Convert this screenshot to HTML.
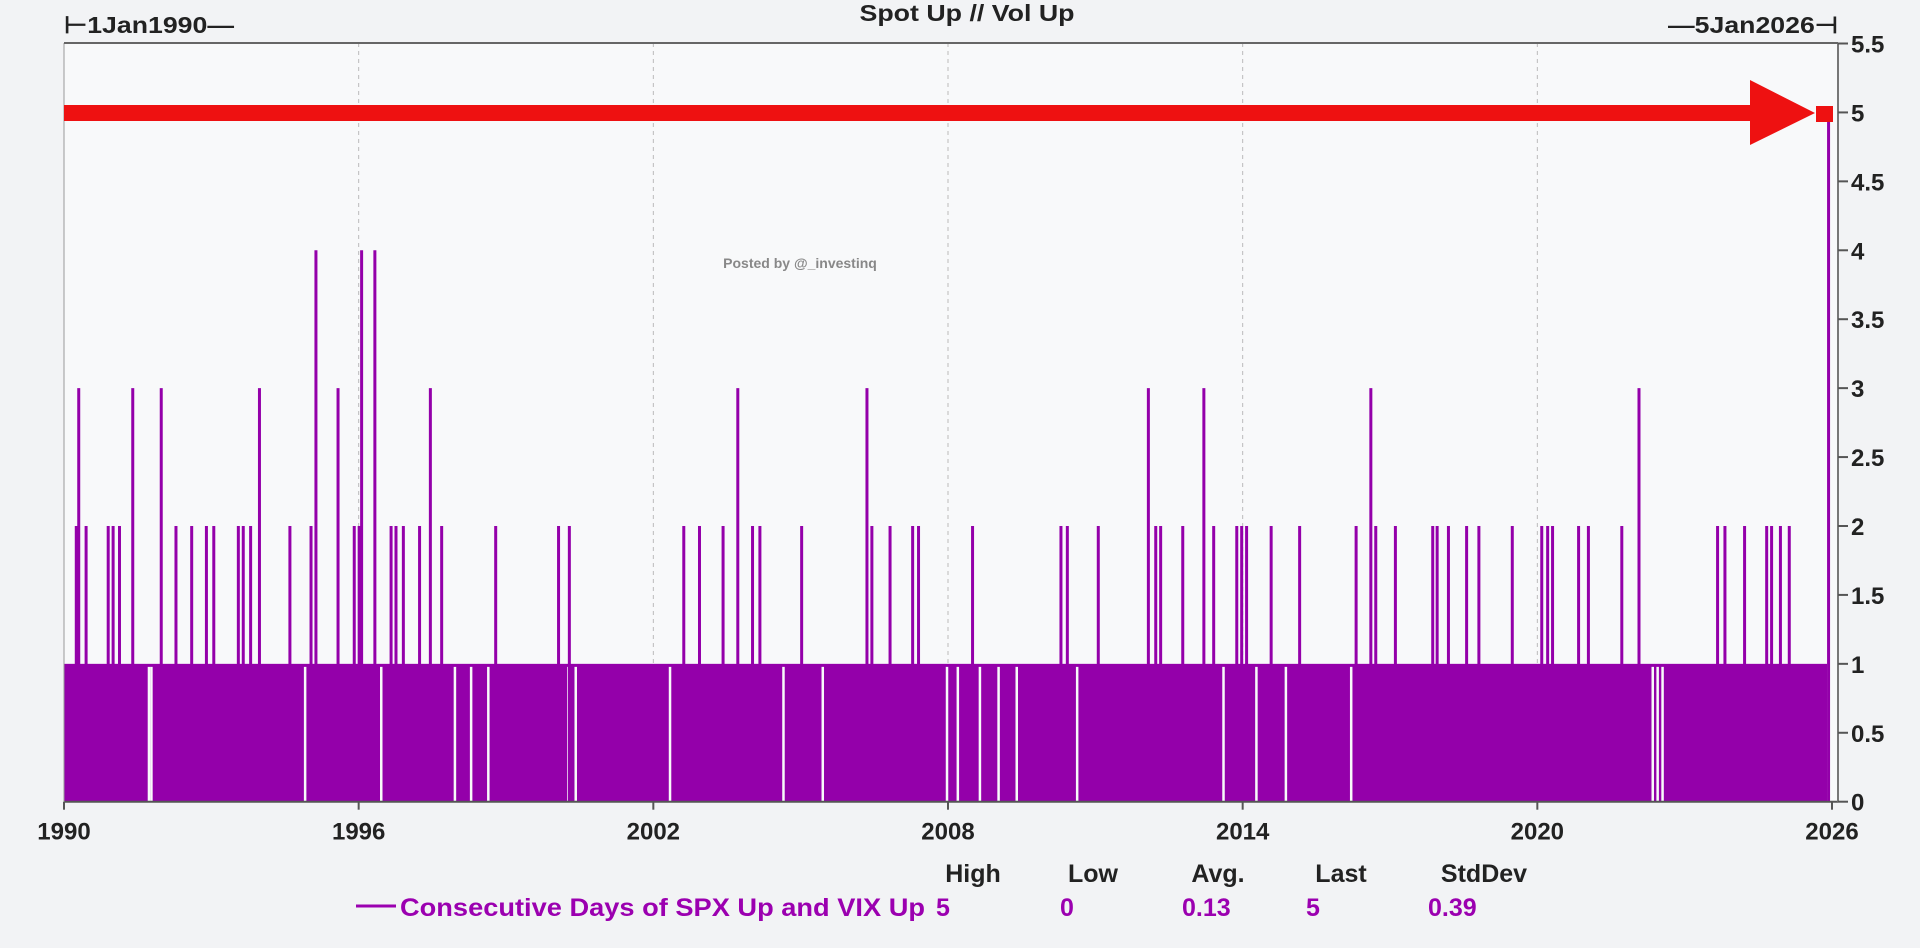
<!DOCTYPE html>
<html><head><meta charset="utf-8"><style>
body{margin:0;background:#f2f3f5;}
svg text{font-family:"Liberation Sans",sans-serif;font-weight:bold;}
</style></head><body>
<svg id="chart" width="1920" height="943" viewBox="0 0 1920 943" xmlns="http://www.w3.org/2000/svg">
<rect x="0" y="0" width="1920" height="943" fill="#f2f3f5"/>
<rect x="64" y="43" width="1774" height="758" fill="#f8f9fa"/>
<g id="grid"></g><g id="base"></g><g id="gaps"></g><g id="spikes"></g><g id="axes"></g>
<text x="967" y="21" font-size="23" text-anchor="middle" fill="#222" textLength="215" lengthAdjust="spacingAndGlyphs">Spot Up // Vol Up</text>
<text x="64" y="33" font-size="23" fill="#222" textLength="170" lengthAdjust="spacingAndGlyphs">⊢1Jan1990—</text>
<text x="1838" y="33" font-size="23" fill="#222" text-anchor="end" textLength="170" lengthAdjust="spacingAndGlyphs">—5Jan2026⊣</text>
<line x1="64" y1="43" x2="1838" y2="43" stroke="#666" stroke-width="2"/>
<g>
<rect x="64" y="105" width="1690" height="16" fill="#ee1111"/>
<polygon points="1750,80 1815,113 1750,145" fill="#ee1111"/>
<rect x="1816" y="106" width="17" height="16" fill="#ee1111"/>
</g>
<text x="800" y="268" font-size="14" fill="#888" text-anchor="middle">Posted by @_investinq</text>
<g font-size="25" fill="#222">
<text x="973" y="882" text-anchor="middle" fill="#222">High</text>
<text x="1093" y="882" text-anchor="middle" fill="#222">Low</text>
<text x="1218" y="882" text-anchor="middle" fill="#222">Avg.</text>
<text x="1341" y="882" text-anchor="middle" fill="#222">Last</text>
<text x="1484" y="882" text-anchor="middle" fill="#222">StdDev</text>
<line x1="356" y1="906" x2="396" y2="906" stroke="#9b00b0" stroke-width="3"/>
<text x="400" y="916" fill="#9b00b0" textLength="525" lengthAdjust="spacingAndGlyphs">Consecutive Days of SPX Up and VIX Up</text>
<text x="936" y="916" fill="#9b00b0">5</text>
<text x="1060" y="916" fill="#9b00b0">0</text>
<text x="1182" y="916" fill="#9b00b0">0.13</text>
<text x="1306" y="916" fill="#9b00b0">5</text>
<text x="1428" y="916" fill="#9b00b0">0.39</text>
</g>
</svg>
<script>
const xTicks=[1990,1996,2002,2008,2014,2020,2026];
const yTicks=[0,0.5,1,1.5,2,2.5,3,3.5,4,4.5,5,5.5];
const spike3Years=[1990.30,1991.40,1991.98,1993.98,1995.58,1997.46,2003.72,2006.35,2012.08,2013.21,2016.61,2022.07];
const spike4Years=[1995.13,1996.06,1996.33];
const spike2Years=[1990.25,1990.45,1990.90,1991.00,1991.13,1992.28,1992.60,1992.90,1993.05,1993.55,1993.65,1993.80,1994.60,1995.03,1995.91,1996.01,1996.66,1996.76,1996.91,1997.24,1997.69,1998.79,2000.07,2000.29,2002.62,2002.94,2003.42,2004.02,2004.17,2005.02,2006.45,2006.82,2007.28,2007.40,2008.50,2010.30,2010.43,2011.06,2012.23,2012.33,2012.78,2013.41,2013.88,2013.98,2014.08,2014.58,2015.16,2016.31,2016.71,2017.11,2017.87,2017.96,2018.19,2018.56,2018.81,2019.49,2020.09,2020.21,2020.31,2020.84,2021.04,2021.72,2023.67,2023.82,2024.22,2024.67,2024.77,2024.95,2025.13];
const spike5Years=[2025.93];
const gapYears=[1991.73,1991.78,1994.91,1996.46,1997.96,1998.29,1998.64,2000.27,2000.42,2002.34,2004.65,2005.45,2007.98,2008.20,2008.65,2009.03,2009.40,2010.63,2013.61,2014.28,2014.88,2016.21,2022.35,2022.45,2022.55];
const baseStart=1990, baseEnd=2025.9;
const X0=64,X1=1832,Y0=801.7,Y55=43.5;
const xs=y=>X0+(y-1990)/(2026-1990)*(X1-X0);
const ys=v=>Y0-v/5.5*(Y0-Y55);
const NS="http://www.w3.org/2000/svg";
function mk(tag,attrs,parent){const e=document.createElementNS(NS,tag);for(const k in attrs)e.setAttribute(k,attrs[k]);document.getElementById(parent).appendChild(e);return e;}
const purple="#9400aa";
xTicks.forEach(t=>{
  if(t>1990&&t<2026){const g=mk('line',{x1:xs(t),x2:xs(t),y1:43,y2:Y0,stroke:'#bbb','stroke-dasharray':'4,4'},'grid');
  
  }
  const tx=mk('text',{x:xs(t),y:Y0+38,'font-size':24,'text-anchor':'middle',fill:'#222'},'axes');tx.textContent=t;
  
  
  const tk=mk('line',{x1:xs(t),x2:xs(t),y1:Y0,y2:Y0+8,stroke:'#555','stroke-width':2},'axes');
  
  
});
const b=mk('rect',{x:xs(baseStart),y:ys(1),width:xs(baseEnd)-xs(baseStart),height:Y0-ys(1),fill:purple},'base');


gapYears.forEach(g=>{const l=mk('line',{x1:xs(g),x2:xs(g),y1:ys(1)+3,y2:Y0,stroke:'#f8f9fa','stroke-width':2.5},'gaps');
  
  });
function spikes(arr,v){arr.forEach(s=>{const l=mk('line',{x1:xs(s),x2:xs(s),y1:ys(v),y2:Y0,stroke:purple,'stroke-width':3},'spikes');
  
  });}
spikes(spike2Years,2);spikes(spike3Years,3);spikes(spike4Years,4);spikes(spike5Years,5);
const ax=mk('line',{x1:X0,x2:1838,y1:Y0,y2:Y0,stroke:'#555','stroke-width':2},'axes');


const ay=mk('line',{x1:1838,x2:1838,y1:43,y2:Y0,stroke:'#777','stroke-width':2},'axes');


const al=mk('line',{x1:X0,x2:X0,y1:43,y2:Y0,stroke:'#999','stroke-width':1},'axes');


yTicks.forEach(t=>{
  const tk=mk('line',{x1:1838,x2:1848,y1:ys(t),y2:ys(t),stroke:'#555','stroke-width':2},'axes');
  
  
  const tx=mk('text',{x:1851,y:ys(t)+9,'font-size':24,fill:'#222'},'axes');tx.textContent=t;
  
  
});
</script>
</body></html>
